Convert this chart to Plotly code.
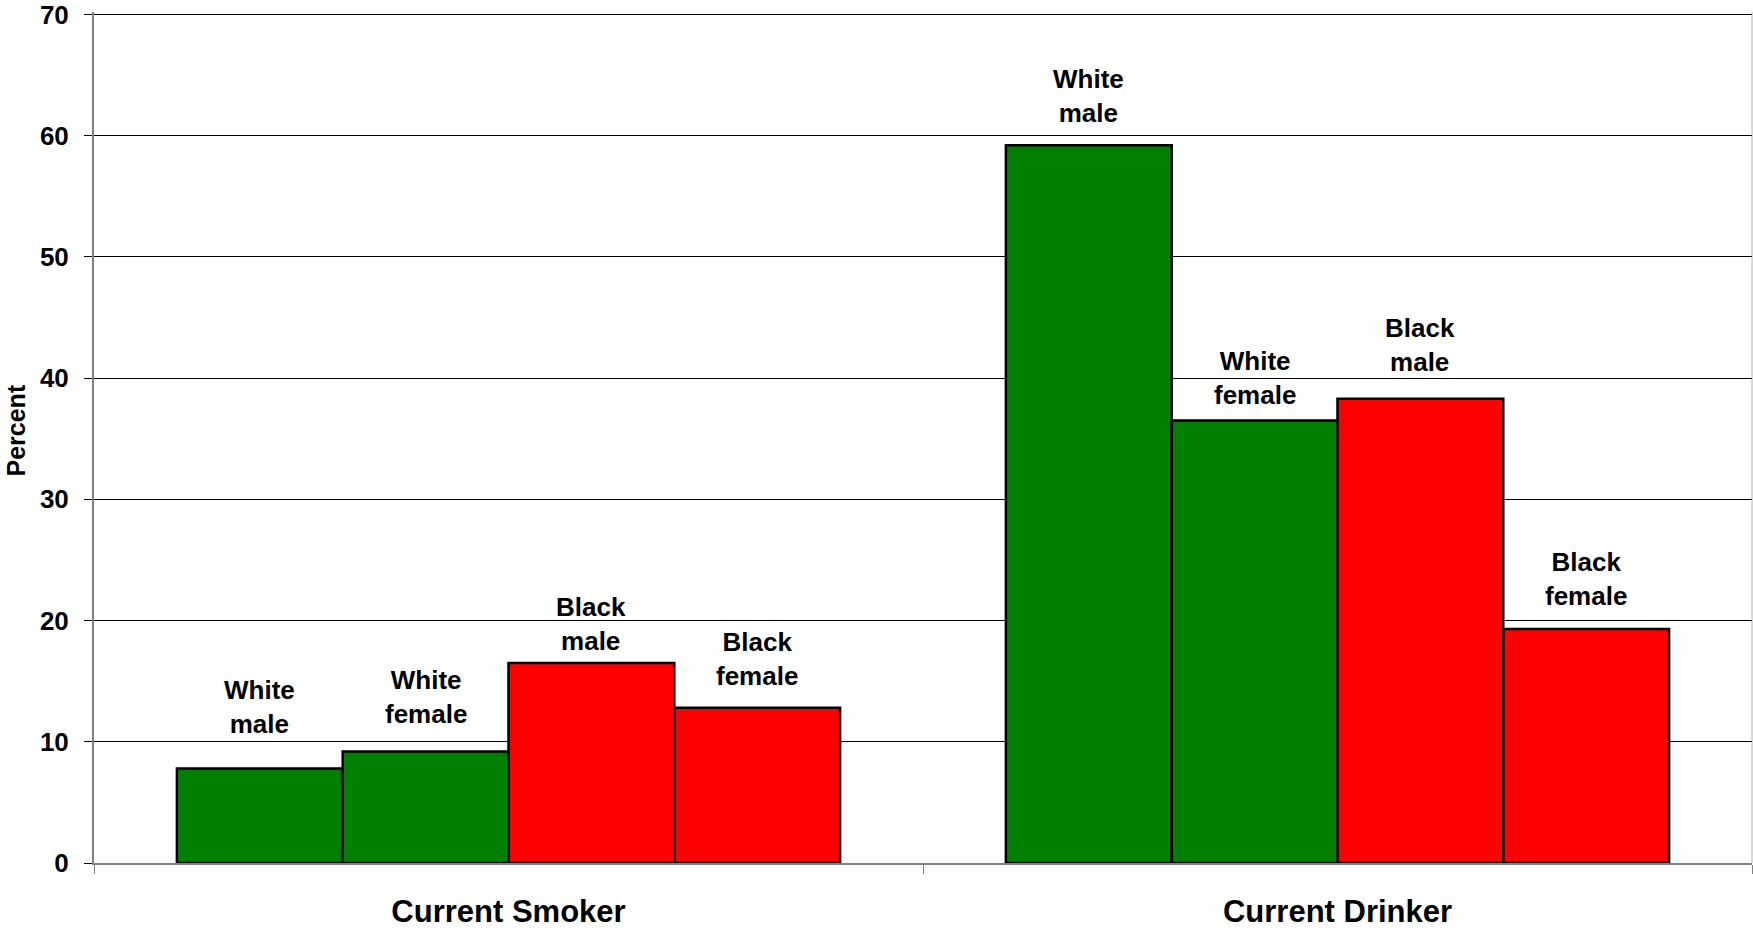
import plotly.graph_objects as go

categories = ["Current Smoker", "Current Drinker"]
groups = ["White<br>male", "White<br>female", "Black<br>male", "Black<br>female"]
white_male = [7.8, 59.2]
white_female = [9.2, 36.5]
black_male = [16.5, 38.3]
black_female = [12.8, 19.3]
y_ticks = [0, 10, 20, 30, 40, 50, 60, 70]

series = [white_male, white_female, black_male, black_female]
colors = ["#008000", "#008000", "#FF0000", "#FF0000"]
# vertical lift (px) of each label above its bar, per category
label_lift = [[27, 20, 5, 15], [15, 9, 20, 16]]

fig = go.Figure()
for j, (name, vals, col) in enumerate(zip(groups, series, colors)):
    fig.add_trace(go.Bar(
        x=categories, y=vals, name=name.replace("<br>", " "),
        marker=dict(color=col, line=dict(color="black", width=2.5)),
        showlegend=False, hoverinfo="skip",
    ))

ann = []
nbar = len(series)
gw = 0.8
bw = gw / nbar
for ci, cat in enumerate(categories):
    for j, vals in enumerate(series):
        xpos = ci - gw / 2 + bw * (j + 0.5)
        ann.append(dict(
            x=xpos, y=vals[ci], xref="x", yref="y", text="<b>" + groups[j] + "</b>",
            showarrow=False, yanchor="bottom", xanchor="center",
            yshift=label_lift[ci][j],
            font=dict(family="Liberation Sans, Arial, sans-serif", size=26, color="black"),
        ))

ann.append(dict(
    x=0, y=0.5, xref="paper", yref="paper", text="<b>Percent</b>", textangle=-90,
    showarrow=False, xanchor="center", yanchor="middle", xshift=-79, yshift=7,
    font=dict(family="Liberation Sans, Arial, sans-serif", size=25, color="black"),
))

fig.update_layout(
    width=1753, height=928,
    margin=dict(l=94, r=1, t=12, b=65),
    paper_bgcolor="white", plot_bgcolor="white",
    barmode="group", bargap=0.2, bargroupgap=0,
    annotations=ann,
    shapes=[dict(type="line", xref="paper", yref="paper", x0=1, x1=1, y0=0, y1=1,
                 line=dict(color="#c8c8c8", width=1.5), layer="below")],
)
fig.update_xaxes(
    type="category", range=[-0.5, 1.5], automargin=False,
    tickson="boundaries", ticks="outside", ticklen=9, tickcolor="#808080", tickwidth=1,
    showline=True, linecolor="#808080", linewidth=2,
    showgrid=False, ticklabelstandoff=20,
    tickfont=dict(family="Liberation Sans, Arial, sans-serif", size=31, color="black"),
    tickprefix="<b>", ticksuffix="</b>",
)
fig.update_yaxes(
    range=[0, 70.2], tickvals=y_ticks, ticktext=["<b>%d</b>" % v for v in y_ticks],
    automargin=False, ticklabeloverflow="allow",
    ticks="outside", ticklen=8, tickcolor="black", tickwidth=1,
    showline=True, linecolor="#808080", linewidth=2,
    showgrid=True, gridcolor="black", gridwidth=1, zeroline=False,
    ticklabelstandoff=10,
    tickfont=dict(family="Liberation Sans, Arial, sans-serif", size=26, color="black"),
)

fig.write_html("out.html", config={"displayModeBar": False},
               post_script="document.body.style.margin='0';")
